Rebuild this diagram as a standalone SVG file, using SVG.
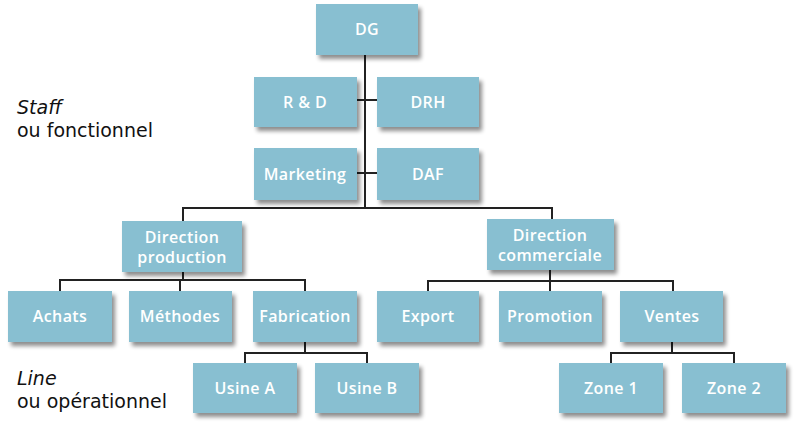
<svg xmlns="http://www.w3.org/2000/svg" width="800" height="433" viewBox="0 0 800 433">
<defs>
<filter id="sh" x="-10%" y="-10%" width="130%" height="140%">
<feGaussianBlur in="SourceAlpha" stdDeviation="2"/>
<feOffset dx="3" dy="4" result="b"/>
<feComponentTransfer><feFuncA type="linear" slope="0.45"/></feComponentTransfer>
<feMerge><feMergeNode/><feMergeNode in="SourceGraphic"/></feMerge>
</filter>
</defs>
<style>
.box{fill:#88bfd1;filter:url(#sh)}
.t{font-family:"Open Sans","DejaVu Sans",sans-serif;font-size:16px;font-weight:600;fill:#ffffff;text-anchor:middle;letter-spacing:0.4px}
.c{fill:none;stroke:#222;stroke-width:2}
.side{font-family:"DejaVu Sans","Open Sans",sans-serif;font-size:19px;fill:#111}
</style>
<rect width="800" height="433" fill="#ffffff"/>
<g id="connectors">
<path class="c" d="M365,55 V208 M357,100 H377 M357,173 H377 M183,221 V208 H552 V219"/>
<path class="c" d="M183,272 V280 M60,291 V280 H305 V291 M180,280 V291"/>
<path class="c" d="M305,342 V353 M245,363 V353 H367 V363"/>
<path class="c" d="M550,270 V281 M428,291 V281 H673 V291 M550,281 V291"/>
<path class="c" d="M672,342 V353 M611,363 V353 H734 V363"/>
</g>
<g id="dg"><rect class="box" x="316" y="4" width="102" height="51"/><text class="t" x="367" y="35">DG</text></g>
<g id="rd"><rect class="box" x="254" y="77" width="103" height="50"/><text class="t" x="305" y="108">R &amp; D</text></g>
<g id="drh"><rect class="box" x="377" y="77" width="102" height="50"/><text class="t" x="428" y="108">DRH</text></g>
<g id="marketing"><rect class="box" x="254" y="148" width="103" height="52"/><text class="t" x="305" y="180">Marketing</text></g>
<g id="daf"><rect class="box" x="377" y="148" width="102" height="52"/><text class="t" x="428" y="180">DAF</text></g>
<g id="dprod"><rect class="box" x="122" y="221" width="120" height="51"/><text class="t" x="182" y="243">Direction</text><text class="t" x="182" y="263">production</text></g>
<g id="dcom"><rect class="box" x="487" y="219" width="127" height="51"/><text class="t" x="550" y="241">Direction</text><text class="t" x="550" y="261">commerciale</text></g>
<g id="achats"><rect class="box" x="8" y="291" width="104" height="51"/><text class="t" x="60" y="322">Achats</text></g>
<g id="methodes"><rect class="box" x="129" y="291" width="103" height="51"/><text class="t" x="180" y="322">Méthodes</text></g>
<g id="fabrication"><rect class="box" x="253" y="291" width="104" height="51"/><text class="t" x="305" y="322">Fabrication</text></g>
<g id="export"><rect class="box" x="377" y="291" width="102" height="51"/><text class="t" x="428" y="322">Export</text></g>
<g id="promotion"><rect class="box" x="499" y="291" width="103" height="51"/><text class="t" x="550" y="322">Promotion</text></g>
<g id="ventes"><rect class="box" x="620" y="291" width="103" height="51"/><text class="t" x="672" y="322">Ventes</text></g>
<g id="usinea"><rect class="box" x="193" y="363" width="104" height="50"/><text class="t" x="245" y="394">Usine A</text></g>
<g id="usineb"><rect class="box" x="315" y="363" width="104" height="50"/><text class="t" x="367" y="394">Usine B</text></g>
<g id="zone1"><rect class="box" x="559" y="363" width="104" height="50"/><text class="t" x="611" y="394">Zone 1</text></g>
<g id="zone2"><rect class="box" x="682" y="363" width="104" height="50"/><text class="t" x="734" y="394">Zone 2</text></g>
<g id="labels">
<text class="side" x="17" y="114" font-style="italic">Staff</text>
<text class="side" x="17" y="137">ou fonctionnel</text>
<text class="side" x="17" y="385" font-style="italic">Line</text>
<text class="side" x="17" y="408">ou opérationnel</text>
</g>
</svg>
